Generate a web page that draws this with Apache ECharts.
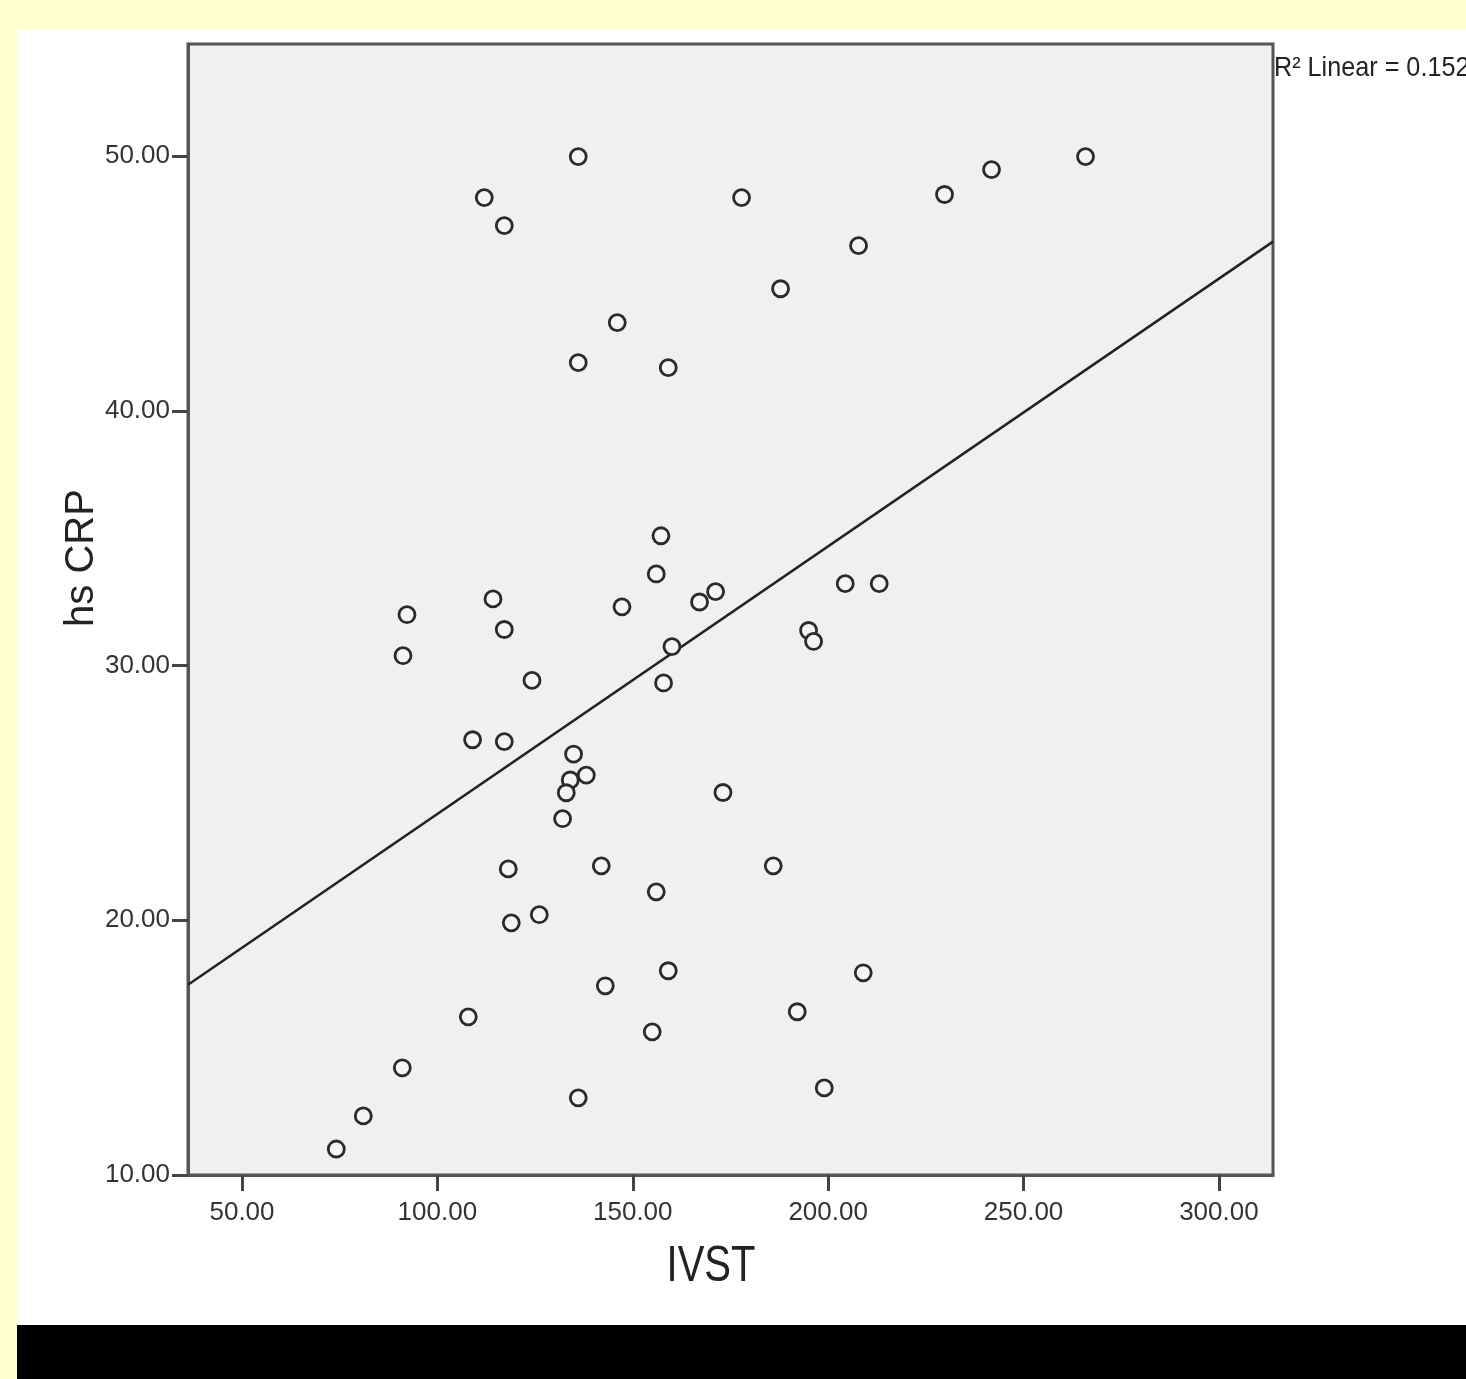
<!DOCTYPE html>
<html><head><meta charset="utf-8">
<script src="https://cdn.jsdelivr.net/npm/echarts@6/dist/echarts.min.js"></script>
<style>
html,body{margin:0;padding:0;width:1466px;height:1379px;overflow:hidden;background:#FFFFD2;}
#panel{position:absolute;left:17px;top:30px;width:1449px;height:1295px;background:#ffffff;}
#bar{position:absolute;left:17px;top:1325px;width:1449px;height:54px;background:#000000;}
#chart{position:absolute;left:0;top:0;width:1466px;height:1379px;}
</style></head><body>
<div id="panel"></div><div id="bar"></div><div id="chart"></div>
<script>
// Data
const ivst = [74.13,81.04,91.02,107.91,91.20,92.22,109.01,117.12,114.23,117.12,124.21,118.14,118.91,126.08,112.00,117.12,136.05,136.05,146.03,159.08,177.84,187.82,207.78,229.78,241.81,265.86,134.85,134.00,138.10,132.98,132.04,141.94,142.97,136.05,154.98,159.08,156.01,157.88,160.03,147.24,156.01,157.21,167.09,171.19,173.08,185.95,192.09,199.00,194.99,196.27,204.37,213.07,208.98];
const hsCrp = [11.02,12.32,14.21,16.21,30.39,32.00,27.09,27.02,32.62,31.42,29.42,22.02,19.90,20.22,48.38,47.28,49.99,41.90,43.47,41.70,48.38,44.80,46.49,48.50,49.48,49.99,26.53,25.51,25.70,25.01,23.99,22.14,17.43,13.03,15.62,18.02,21.12,29.32,30.75,32.31,33.60,35.10,32.50,32.91,25.02,22.14,16.41,13.42,31.38,30.95,33.22,33.22,17.94];
const fitX = [36.18, 313.84];
const fitY = [17.47, 46.65];
const xTicks = [50,100,150,200,250,300];
const yTicks = [10,20,30,40,50];
const xName = 'IVST';
const yName = 'hs CRP';
const r2Text = 'R² Linear = 0.152';

const fam = "'Liberation Sans', sans-serif";
const chart = echarts.init(document.getElementById('chart'), null, {renderer:'canvas'});
chart.setOption({
  animation:false,
  backgroundColor:'transparent',
  grid:{left:188, top:44, right:193, bottom:204, show:true, backgroundColor:'#F0F0F0', borderColor:'#555', borderWidth:3},
  xAxis:{type:'value', min:36.18, max:313.84,
    axisLine:{show:true, onZero:false, lineStyle:{color:'#555', width:3}},
    axisTick:{show:true, customValues:xTicks, length:16, lineStyle:{color:'#444', width:3}},
    axisLabel:{customValues:xTicks, formatter:v=>v.toFixed(2), margin:25, color:'#333', fontSize:26, fontFamily:fam},
    splitLine:{show:false}},
  yAxis:{type:'value', min:10, max:54.41,
    axisLine:{show:true, onZero:false, lineStyle:{color:'#555', width:3}},
    axisTick:{show:true, customValues:yTicks, length:16, lineStyle:{color:'#444', width:3}},
    axisLabel:{customValues:yTicks, formatter:v=>v.toFixed(2), margin:18, color:'#333', fontSize:26, fontFamily:fam, padding:[10,0,0,0]},
    splitLine:{show:false}},
  graphic:[
    {type:'text', x:711, y:1267, scaleX:0.8, style:{text:xName, fill:'#222', font:"50px 'Liberation Sans', sans-serif", align:'center', verticalAlign:'middle'}},
    {type:'text', x:82, y:558, rotation:Math.PI/2, style:{text:yName, fill:'#222', font:"40px 'Liberation Sans', sans-serif", align:'center', verticalAlign:'middle'}},
    {type:'text', x:1274, y:68, scaleX:0.9, style:{text:r2Text, fill:'#222', font:"28px 'Liberation Sans', sans-serif", align:'left', verticalAlign:'middle'}}
  ],
  series:[
    {type:'line', data:fitX.map((x,i)=>[x,fitY[i]]), symbol:'none', lineStyle:{color:'#222', width:2.5}, z:2},
    {type:'scatter', data:ivst.map((x,i)=>[x,hsCrp[i]]), symbol:'circle', symbolSize:16,
      itemStyle:{color:'#F4F4F4', borderColor:'#2a2a2a', borderWidth:2.8, opacity:1}, z:3}
  ]
});
</script></body></html>
